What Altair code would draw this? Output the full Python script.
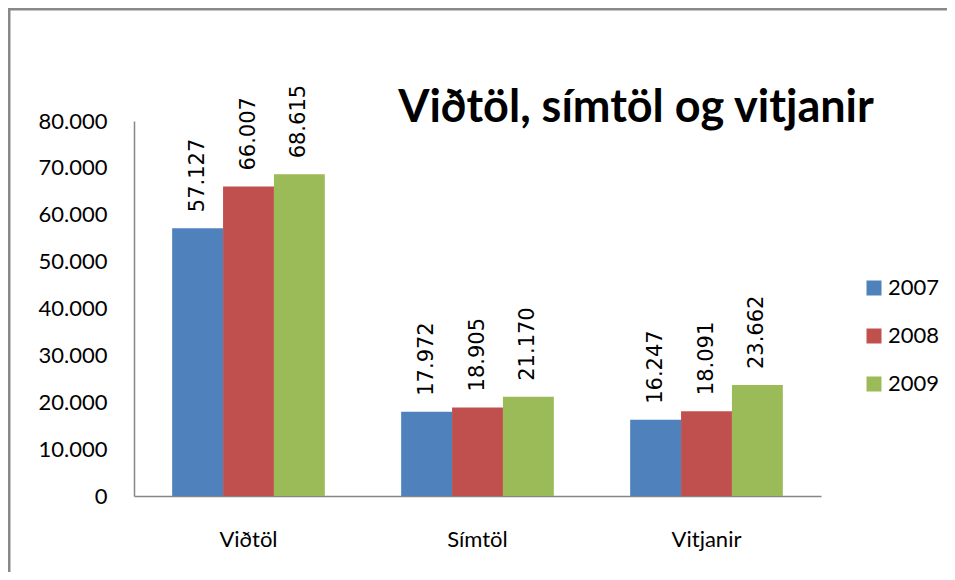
import altair as alt
import pandas as pd

categories = ["Viðtöl", "Símtöl", "Vitjanir"]
years = ["2007", "2008", "2009"]
values_2007 = [57127, 17972, 16247]
values_2008 = [66007, 18905, 18091]
values_2009 = [68615, 21170, 23662]
colors = ["#4F81BD", "#C0504D", "#9BBB59"]
title_text = "Viðtöl, símtöl og vitjanir"
y_ticks = [0, 10000, 20000, 30000, 40000, 50000, 60000, 70000, 80000]

rows = []
for yr, vals in zip(years, [values_2007, values_2008, values_2009]):
    for c, v in zip(categories, vals):
        rows.append({"Flokkur": c, "Ár": yr, "Fjöldi": v})
df = pd.DataFrame(rows)

W, H = 687, 375
FONT = "Lato"
AXIS_GRAY = "#868686"

base = alt.Chart(df).encode(
    x=alt.X(
        "Flokkur:N",
        sort=categories,
        title=None,
        scale=alt.Scale(paddingInner=1 / 3, paddingOuter=1 / 6),
        axis=alt.Axis(
            labelAngle=0,
            labelFont=FONT,
            labelFontSize=22,
            labelColor="black",
            labelPadding=33,
            ticks=False,
            domainColor=AXIS_GRAY,
            domainWidth=1.5,
            grid=False,
        ),
    ),
    xOffset=alt.XOffset("Ár:N", sort=years, scale=alt.Scale(paddingInner=0, paddingOuter=0)),
    y=alt.Y(
        "Fjöldi:Q",
        title=None,
        scale=alt.Scale(domain=[0, 80000], nice=False),
        axis=alt.Axis(
            values=y_ticks,
            format=",d",
            labelFont=FONT,
            labelFontSize=22,
            labelColor="black",
            labelPadding=27,
            ticks=False,
            domainColor=AXIS_GRAY,
            domainWidth=1.5,
            grid=False,
        ),
    ),
)

bars = base.mark_bar().encode(
    color=alt.Color(
        "Ár:N",
        sort=years,
        scale=alt.Scale(domain=years, range=colors),
        legend=alt.Legend(
            title=None,
            orient="none",
            legendX=729,
            legendY=156,
            symbolType="square",
            symbolSize=225,
            symbolStrokeWidth=0,
            labelFont=FONT,
            labelFontSize=22,
            labelColor="black",
            labelOffset=3,
            rowPadding=26,
            padding=0,
        ),
    )
)

labels = base.mark_text(
    angle=270,
    align="left",
    baseline="middle",
    dx=16,
    font="DejaVu Sans",
    fontSize=21,
    color="black",
).encode(text=alt.Text("Fjöldi:Q", format=",d"))

title = alt.Chart(pd.DataFrame({"t": [title_text]})).mark_text(
    font=FONT,
    fontWeight="bold",
    fontSize=45,
    align="center",
    baseline="alphabetic",
    color="black",
).encode(text="t:N", x=alt.value(502), y=alt.value(1))

border = alt.Chart(pd.DataFrame({"b": [0]})).mark_rect(
    fill="white",
    fillOpacity=0,
    stroke="#888888",
    strokeWidth=2.5,
).encode(
    x=alt.value(-124.75),
    x2=alt.value(1000),
    y=alt.value(-111.75),
    y2=alt.value(1000),
)

chart = (
    alt.layer(border, bars, labels, title)
    .properties(
        width=W,
        height=H,
        padding={"left": 126, "top": 113, "right": 126, "bottom": 76},
        autosize="none",
        background="white",
    )
    .configure(
        locale={
            "number": {
                "decimal": ",",
                "thousands": ".",
                "grouping": [3],
                "currency": ["", " kr."],
            }
        }
    )
    .configure_view(stroke=None)
)

chart.save("out.html", embed_options={"renderer": "svg", "actions": False})
